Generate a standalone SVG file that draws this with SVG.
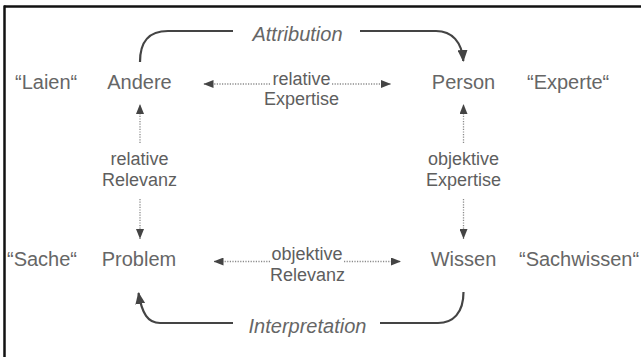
<svg xmlns="http://www.w3.org/2000/svg" width="641" height="357" viewBox="0 0 641 357">
<defs>
<style>
.node{font-family:"Liberation Sans",Arial,sans-serif;font-size:20px;fill:#666;}
.side{font-family:"Liberation Sans",Arial,sans-serif;font-size:20px;fill:#666;}
.lbl{font-family:"Liberation Sans",Arial,sans-serif;font-size:18px;fill:#5e5e5e;text-anchor:middle;}
.it{font-family:"Liberation Sans",Arial,sans-serif;font-size:20px;font-style:italic;fill:#666;text-anchor:middle;}
.dot{stroke:#8a8a8a;stroke-width:1.3;stroke-dasharray:1.2 1.4;fill:none;marker-end:url(#tri);}
.solid{stroke:#444;stroke-width:2.2;fill:none;}
.arr{marker-end:url(#tri2);}
</style>
<marker id="tri" markerUnits="userSpaceOnUse" markerWidth="10" markerHeight="8" refX="10" refY="4" orient="auto"><path d="M0,0 L10,4 L0,8 Z" fill="#444"/></marker>
<marker id="tri2" markerUnits="userSpaceOnUse" markerWidth="12" markerHeight="10" refX="11" refY="5" orient="auto"><path d="M0,0 L12,5 L0,10 Z" fill="#444"/></marker>
</defs>
<rect width="641" height="357" fill="#fff"/>
<g id="frame">
<line x1="4" y1="6.5" x2="641" y2="6.5" stroke="#111" stroke-width="2.5"/>
<line x1="4.5" y1="5.5" x2="4.5" y2="357" stroke="#111" stroke-width="2.5"/>
</g>
<g id="connectors">
<path class="solid" d="M140,62 C140,42 148,31 168,31 L233,31"/>
<path class="solid arr" d="M360,31 L436,31 C452,31 462,42 463.3,61"/>
<path class="solid" d="M380,323 L438,323 C453,323 463.5,313 463.5,292"/>
<path class="solid arr" d="M233,323 L160,323 C148,323 142,314 138.5,293"/>
<line class="dot" x1="270" y1="84" x2="203.5" y2="84"/>
<line class="dot" x1="332" y1="84" x2="391" y2="84"/>
<line class="dot" x1="270" y1="261.5" x2="213.5" y2="261.5"/>
<line class="dot" x1="344" y1="261.5" x2="401" y2="261.5"/>
<line class="dot" x1="140" y1="143" x2="140" y2="104"/>
<line class="dot" x1="140" y1="199" x2="140" y2="239"/>
<line class="dot" x1="463.5" y1="143" x2="463.5" y2="104"/>
<line class="dot" x1="463.5" y1="199" x2="463.5" y2="239"/>
</g>
<g id="node-andere"><text class="node" x="139.5" y="89" text-anchor="middle">Andere</text></g>
<g id="node-person"><text class="node" x="463.5" y="89" text-anchor="middle">Person</text></g>
<g id="node-problem"><text class="node" x="139" y="266" text-anchor="middle">Problem</text></g>
<g id="node-wissen"><text class="node" x="463.5" y="266" text-anchor="middle">Wissen</text></g>
<g id="side-laien"><text class="side" x="15" y="89">“Laien“</text></g>
<g id="side-experte"><text class="side" x="527" y="89">“Experte“</text></g>
<g id="side-sache"><text class="side" x="7" y="266">“Sache“</text></g>
<g id="side-sachwissen"><text class="side" x="519" y="266">“Sachwissen“</text></g>
<g id="label-attribution"><text class="it" x="297.5" y="41">Attribution</text></g>
<g id="label-interpretation"><text class="it" x="307.5" y="333">Interpretation</text></g>
<g id="label-rel-expertise"><text class="lbl" x="301.5" y="85">relative</text><text class="lbl" x="301.5" y="105">Expertise</text></g>
<g id="label-obj-relevanz"><text class="lbl" x="307" y="260">objektive</text><text class="lbl" x="307.5" y="281">Relevanz</text></g>
<g id="label-rel-relevanz"><text class="lbl" x="139.5" y="165">relative</text><text class="lbl" x="139.5" y="186">Relevanz</text></g>
<g id="label-obj-expertise"><text class="lbl" x="463.5" y="165">objektive</text><text class="lbl" x="463.5" y="186">Expertise</text></g>
</svg>
